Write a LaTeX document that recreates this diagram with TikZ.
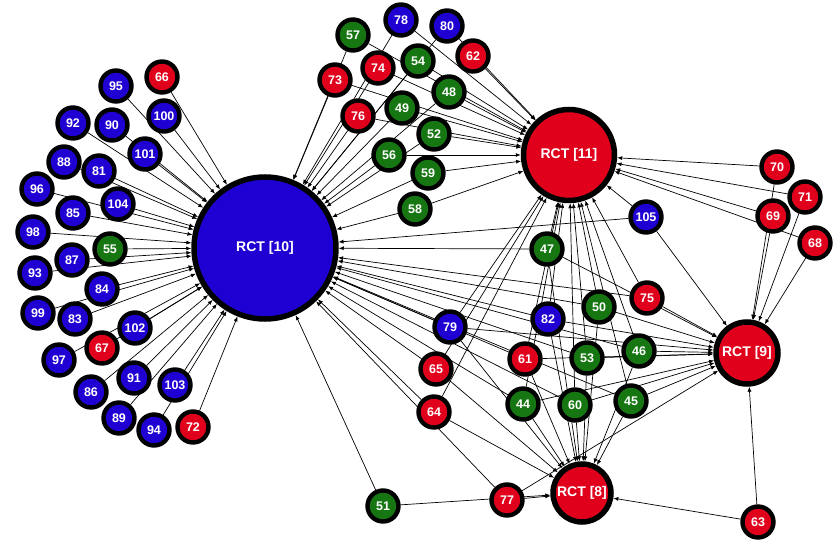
\documentclass[tikz,border=0pt]{standalone}
\usepackage{fontspec}
\setmainfont{Liberation Sans}
\usetikzlibrary{arrows.meta,backgrounds}
\definecolor{nb}{RGB}{30,0,210}
\definecolor{nr}{RGB}{224,0,28}
\definecolor{ng}{RGB}{22,118,18}
\tikzset{
 sn/.style={circle,draw=black,line width=4.4pt,minimum size=31pt,inner sep=0pt,text=white,font=\fontsize{12.5}{12.5}\selectfont\bfseries},
 bn/.style={sn,fill=nb}, rn/.style={sn,fill=nr}, gn/.style={sn,fill=ng},
 hub/.style={circle,draw=black,line width=5.5pt,inner sep=0pt,text=white,font=\fontsize{14}{14}\selectfont\bfseries},
 ed/.style={-{Latex[length=5pt,width=4pt]},line width=0.7pt},
}
\begin{document}
\begin{tikzpicture}[x=1pt,y=-1pt]
\useasboundingbox (0,0) rectangle (836,540);
% hubs
\node[hub,fill=nb,minimum size=142pt] (h10) at (265,248) {RCT [10]};
\node[hub,fill=nr,minimum size=91pt] (h11) at (569,155) {RCT [11]};
\node[hub,fill=nr,minimum size=62pt] (h9) at (747,353) {RCT [9]};
\node[hub,fill=nr,minimum size=58pt] (h8) at (582,493) {RCT [8]};
% left cluster
\node[rn] (n66) at (162,77) {66};
\node[bn] (n95) at (116,86) {95};
\node[bn] (n100) at (164,116) {100};
\node[bn] (n92) at (73,123) {92};
\node[bn] (n90) at (112,125) {90};
\node[bn] (n101) at (145,154) {101};
\node[bn] (n88) at (64,162) {88};
\node[bn] (n81) at (99,171) {81};
\node[bn] (n96) at (37,189) {96};
\node[bn] (n85) at (73,213) {85};
\node[bn] (n104) at (118,204) {104};
\node[bn] (n98) at (33,232) {98};
\node[gn] (n55) at (110,249) {55};
\node[bn] (n87) at (72,260) {87};
\node[bn] (n93) at (35,273) {93};
\node[bn] (n84) at (102,289) {84};
\node[bn] (n99) at (38,313) {99};
\node[bn] (n83) at (75,319) {83};
\node[bn] (n102) at (135,328) {102};
\node[rn] (n67) at (102,348) {67};
\node[bn] (n97) at (59,360) {97};
\node[bn] (n91) at (134,378) {91};
\node[bn] (n86) at (91,392) {86};
\node[bn] (n103) at (175,385) {103};
\node[bn] (n89) at (119,418) {89};
\node[bn] (n94) at (154,430) {94};
\node[rn] (n72) at (193,427) {72};
% top cluster
\node[bn] (n78) at (401,20) {78};
\node[bn] (n80) at (447,26) {80};
\node[gn] (n57) at (353,35) {57};
\node[rn] (n62) at (473,56) {62};
\node[gn] (n54) at (418,61) {54};
\node[rn] (n74) at (378,68) {74};
\node[rn] (n73) at (335,80) {73};
\node[gn] (n48) at (449,92) {48};
\node[gn] (n49) at (402,108) {49};
\node[rn] (n76) at (358,116) {76};
\node[gn] (n52) at (434,134) {52};
\node[gn] (n56) at (389,155) {56};
\node[gn] (n59) at (428,173) {59};
\node[gn] (n58) at (415,209) {58};
% right
\node[rn] (n70) at (777,167) {70};
\node[rn] (n71) at (805,197) {71};
\node[rn] (n69) at (773,216) {69};
\node[rn] (n68) at (815,243) {68};
\node[bn] (n105) at (646,217) {105};
% middle
\node[gn] (n47) at (547,249) {47};
\node[rn] (n75) at (647,298) {75};
\node[bn] (n79) at (450,327) {79};
\node[bn] (n82) at (548,319) {82};
\node[gn] (n50) at (599,307) {50};
\node[rn] (n61) at (525,359) {61};
\node[gn] (n53) at (587,358) {53};
\node[gn] (n46) at (639,351) {46};
\node[rn] (n65) at (436,369) {65};
\node[gn] (n44) at (523,404) {44};
\node[gn] (n60) at (575,405) {60};
\node[gn] (n45) at (631,401) {45};
\node[rn] (n64) at (434,412) {64};
% bottom
\node[gn] (n51) at (383,506) {51};
\node[rn] (n77) at (507,500) {77};
\node[rn] (n63) at (758,522) {63};
\begin{pgfonlayer}{background}
\foreach \s in {66,95,100,92,90,101,88,81,96,85,104,98,55,87,93,84,99,83,102,67,97,91,86,103,89,94,72}
  \draw[ed] (n\s) -- (h10);
\foreach \s in {57,78,80,54,74,73,48,49,76,52,56,59,58}
  \draw[ed] (n\s) -- (h10);
\foreach \s in {57,78,80,62,54,74,73,48,49,76,52,56,59,58}
  \draw[ed] (n\s) -- (h11);
\foreach \s in {70,71,69,68,105}
  \draw[ed] (n\s) -- (h11);
\foreach \s in {70,71,69,68,105}
  \draw[ed] (n\s) -- (h9);
\draw[ed] (n105) -- (h10);
\foreach \s in {47,75,50,82,79,61,53,46,65,64,44,60,45,51,77}
  \draw[ed] (n\s) -- (h10);
\foreach \s in {47,75,50,82,79,61,53,46,65,64,44,60,45}
  \draw[ed] (n\s) -- (h11);
\foreach \s in {47,75,50,82,79,61,53,46,44,60,45,77,63}
  \draw[ed] (n\s) -- (h9);
\foreach \s in {47,50,82,79,61,53,46,65,64,44,60,45,51,77,63}
  \draw[ed] (n\s) -- (h8);
\end{pgfonlayer}
\end{tikzpicture}
\end{document}
